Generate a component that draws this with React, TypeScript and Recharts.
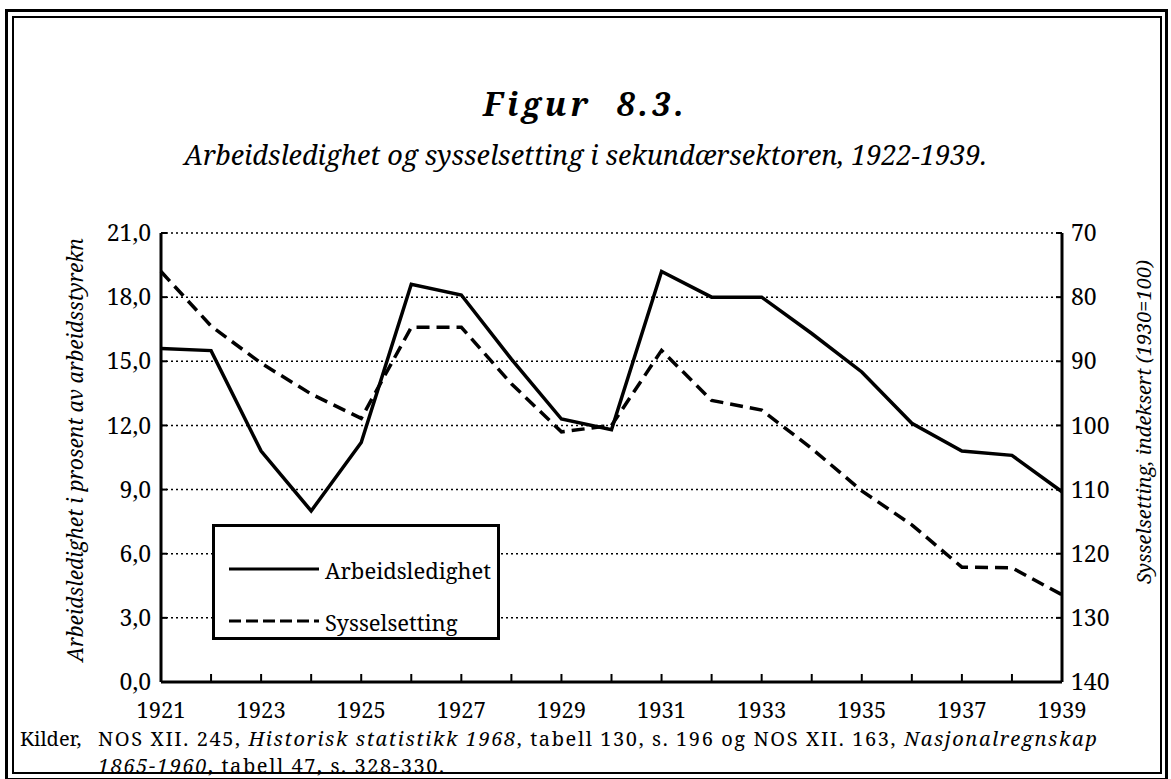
import { LineChart, Line, XAxis, YAxis, CartesianGrid } from 'recharts';

const years = [1921, 1922, 1923, 1924, 1925, 1926, 1927, 1928, 1929, 1930, 1931, 1932, 1933, 1934, 1935, 1936, 1937, 1938, 1939];
const arbeidsledighet = [15.6, 15.5, 10.8, 8.0, 11.2, 18.6, 18.1, 15.1, 12.3, 11.8, 19.2, 18.0, 18.0, 16.3, 14.5, 12.1, 10.8, 10.6, 8.9];
const sysselsetting = [76.0, 84.5, 90.3, 95.1, 98.9, 84.7, 84.7, 93.5, 101.0, 100.0, 88.3, 96.1, 97.6, 103.6, 110.2, 115.5, 122.1, 122.2, 126.4];
const leftTicks = [0, 3, 6, 9, 12, 15, 18, 21];
const rightTicks = [70, 80, 90, 100, 110, 120, 130, 140];
const labelYears = [1921, 1923, 1925, 1927, 1929, 1931, 1933, 1935, 1937, 1939];

const FONT = "'Noto Serif', 'DejaVu Serif', serif";

const chartData = years.map((year, i) => ({
  year,
  arbeid: arbeidsledighet[i],
  syssel: sysselsetting[i],
}));

// legend drawn as a plain box so it doesn't eat into the plot area
function LegendBox() {
  return (
    <div
      style={{
        position: 'absolute',
        left: 212,
        top: 524,
        width: 288,
        height: 116,
        border: '3px solid #000',
        boxSizing: 'border-box',
        background: '#fff',
        fontSize: 22,
      }}
    >
      <svg width={100} height={116} style={{ position: 'absolute', left: 10, top: -3 }}>
        <line x1={4} x2={94} y1={45} y2={45} stroke="#000" strokeWidth={3} />
        <line x1={4} x2={94} y1={97} y2={97} stroke="#000" strokeWidth={3} strokeDasharray="12 5" />
      </svg>
      <div style={{ position: 'absolute', left: 110, top: 28, lineHeight: '30px' }}>Arbeidsledighet</div>
      <div style={{ position: 'absolute', left: 110, top: 80, lineHeight: '30px' }}>Sysselsetting</div>
    </div>
  );
}

export default function App() {
  return (
    <div style={{ position: 'absolute', left: 0, top: 0, width: 1171, height: 779, background: '#fff', overflow: 'hidden', fontFamily: FONT, color: '#000' }}>
      <div style={{ position: 'absolute', left: 5, top: 9, width: 1163, height: 772, border: '3px solid #000', boxSizing: 'border-box' }} />
      <div style={{ position: 'absolute', left: 12, top: 16, width: 1150, height: 758, border: '2px solid #000', boxSizing: 'border-box' }} />

      <div style={{ position: 'absolute', left: 0, width: 1171, top: 84, textAlign: 'center', fontSize: 32, lineHeight: '40px', fontWeight: 'bold', fontStyle: 'italic', whiteSpace: 'pre', letterSpacing: 4 }}>
        Figur  8.3.
      </div>
      <div style={{ position: 'absolute', left: 0, width: 1171, top: 136, textAlign: 'center', fontSize: 27, lineHeight: '38px', fontStyle: 'italic' }}>
        Arbeidsledighet og sysselsetting i sekundærsektoren, 1922-1939.
      </div>

      <div style={{ position: 'absolute', left: 75, top: 450, transform: 'translate(-50%, -50%) rotate(-90deg)', whiteSpace: 'nowrap', fontSize: 21, fontStyle: 'italic' }}>
        Arbeidsledighet i prosent av arbeidsstyrekn
      </div>
      <div style={{ position: 'absolute', left: 1143, top: 422, transform: 'translate(-50%, -50%) rotate(-90deg)', whiteSpace: 'nowrap', fontSize: 20, fontStyle: 'italic' }}>
        Sysselsetting, indeksert (1930=100)
      </div>

      <LineChart
        width={1171}
        height={779}
        data={chartData}
        margin={{ top: 233, right: 49, bottom: 37, left: 81 }}
        style={{ position: 'absolute', left: 0, top: 0 }}
      >
        <CartesianGrid yAxisId="left" vertical={false} stroke="#000" strokeWidth={1.5} strokeDasharray="2 3" />
        <XAxis
          dataKey="year"
          type="number"
          domain={[1921, 1939]}
          ticks={years}
          interval={0}
          height={60}
          tickFormatter={(v) => (labelYears.includes(v) ? String(v) : '')}
          tick={{ fill: '#000', fontSize: 22, fontFamily: FONT }}
          axisLine={{ stroke: '#000', strokeWidth: 3 }}
          tickLine={{ stroke: '#000', strokeWidth: 2 }}
          tickSize={-8}
          tickMargin={28}
        />
        <YAxis
          yAxisId="left"
          orientation="left"
          domain={[0, 21]}
          ticks={leftTicks}
          interval={0}
          width={80}
          tickFormatter={(v) => v.toFixed(1).replace('.', ',')}
          tick={{ fill: '#000', fontSize: 23, fontFamily: FONT }}
          axisLine={{ stroke: '#000', strokeWidth: 3 }}
          tickLine={{ stroke: '#000', strokeWidth: 2 }}
          tickSize={-6}
          tickMargin={16}
        />
        <YAxis
          yAxisId="right"
          orientation="right"
          domain={[70, 140]}
          reversed
          ticks={rightTicks}
          interval={0}
          width={60}
          tick={{ fill: '#000', fontSize: 23, fontFamily: FONT }}
          axisLine={{ stroke: '#000', strokeWidth: 3 }}
          tickLine={{ stroke: '#000', strokeWidth: 2 }}
          tickSize={-6}
          tickMargin={15}
        />
        <Line
          yAxisId="left"
          dataKey="arbeid"
          name="Arbeidsledighet"
          stroke="#000"
          strokeWidth={3.5}
          dot={false}
          isAnimationActive={false}
        />
        <Line
          yAxisId="right"
          dataKey="syssel"
          name="Sysselsetting"
          stroke="#000"
          strokeWidth={3.5}
          strokeDasharray="13 7"
          dot={false}
          isAnimationActive={false}
        />
      </LineChart>

      <LegendBox />

      <div style={{ position: 'absolute', left: 20, top: 725, fontSize: 20, lineHeight: '27px' }}>Kilder,</div>
      <div style={{ position: 'absolute', left: 98, top: 725, width: 1065, fontSize: 20, lineHeight: '27px', letterSpacing: 1.6, whiteSpace: 'nowrap' }}>
        NOS XII. 245, <i>Historisk statistikk 1968</i>, tabell 130, s. 196 og NOS XII. 163, <i>Nasjonalregnskap</i>
        <br />
        <i>1865-1960</i>, tabell 47, s. 328-330.
      </div>
    </div>
  );
}
